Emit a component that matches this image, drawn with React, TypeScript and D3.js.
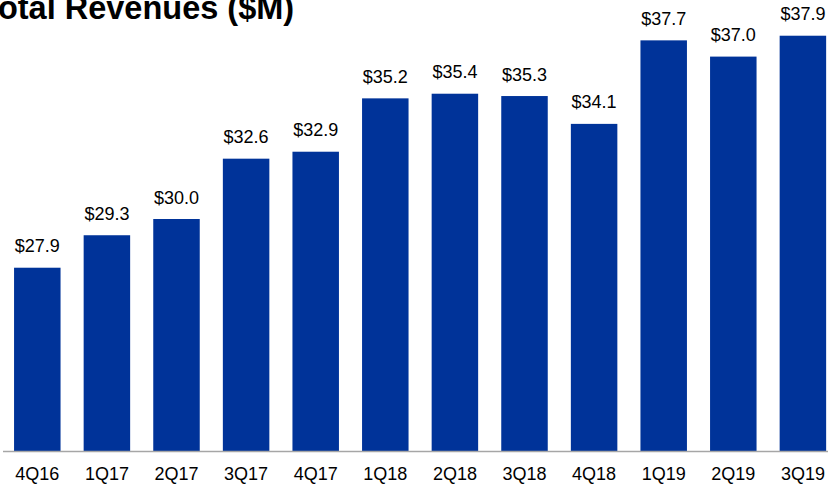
import React from "react";
import * as d3 from "d3";

const categories = ["4Q16", "1Q17", "2Q17", "3Q17", "4Q17", "1Q18", "2Q18", "3Q18", "4Q18", "1Q19", "2Q19", "3Q19"];
const revenues = [27.9, 29.3, 30.0, 32.6, 32.9, 35.2, 35.4, 35.3, 34.1, 37.7, 37.0, 37.9];
const title = "Total Revenues ($M)";

const W = 828;
const H = 484;

export default function App() {
  const x = d3
    .scaleBand<string>()
    .domain(categories)
    .range([2.5, 2.5 + 12 * 69.6])
    .paddingInner(0.332)
    .paddingOuter(0.166);
  const y = d3.scaleLinear().domain([20, 40]).range([451, 451 - 20 * 23.2]);
  const font = "Arial, 'Liberation Sans', sans-serif";
  return (
    <svg
      width={W}
      height={H}
      style={{ position: "absolute", left: 0, top: 0, background: "#fff" }}
    >
      <text x={-19.5} y={19} fontFamily={font} fontWeight="bold" fontSize={32.5} fill="#000">
        {title}
      </text>
      {categories.map((c, i) => (
        <g key={c}>
          <rect
            x={x(c)}
            y={y(revenues[i])}
            width={x.bandwidth()}
            height={y(20) - y(revenues[i])}
            fill="#003399"
          />
          <text
            x={(x(c) as number) + x.bandwidth() / 2}
            y={y(revenues[i]) - 15.5}
            textAnchor="middle"
            fontFamily={font}
            fontSize={18}
            fill="#000"
          >
            {"$" + revenues[i].toFixed(1)}
          </text>
          <text
            x={(x(c) as number) + x.bandwidth() / 2}
            y={480}
            textAnchor="middle"
            fontFamily={font}
            fontSize={18}
            fill="#000"
          >
            {c}
          </text>
        </g>
      ))}
      <line x1={3} x2={W} y1={451.5} y2={451.5} stroke="#a6a6a6" strokeWidth={1.5} />
    </svg>
  );
}
